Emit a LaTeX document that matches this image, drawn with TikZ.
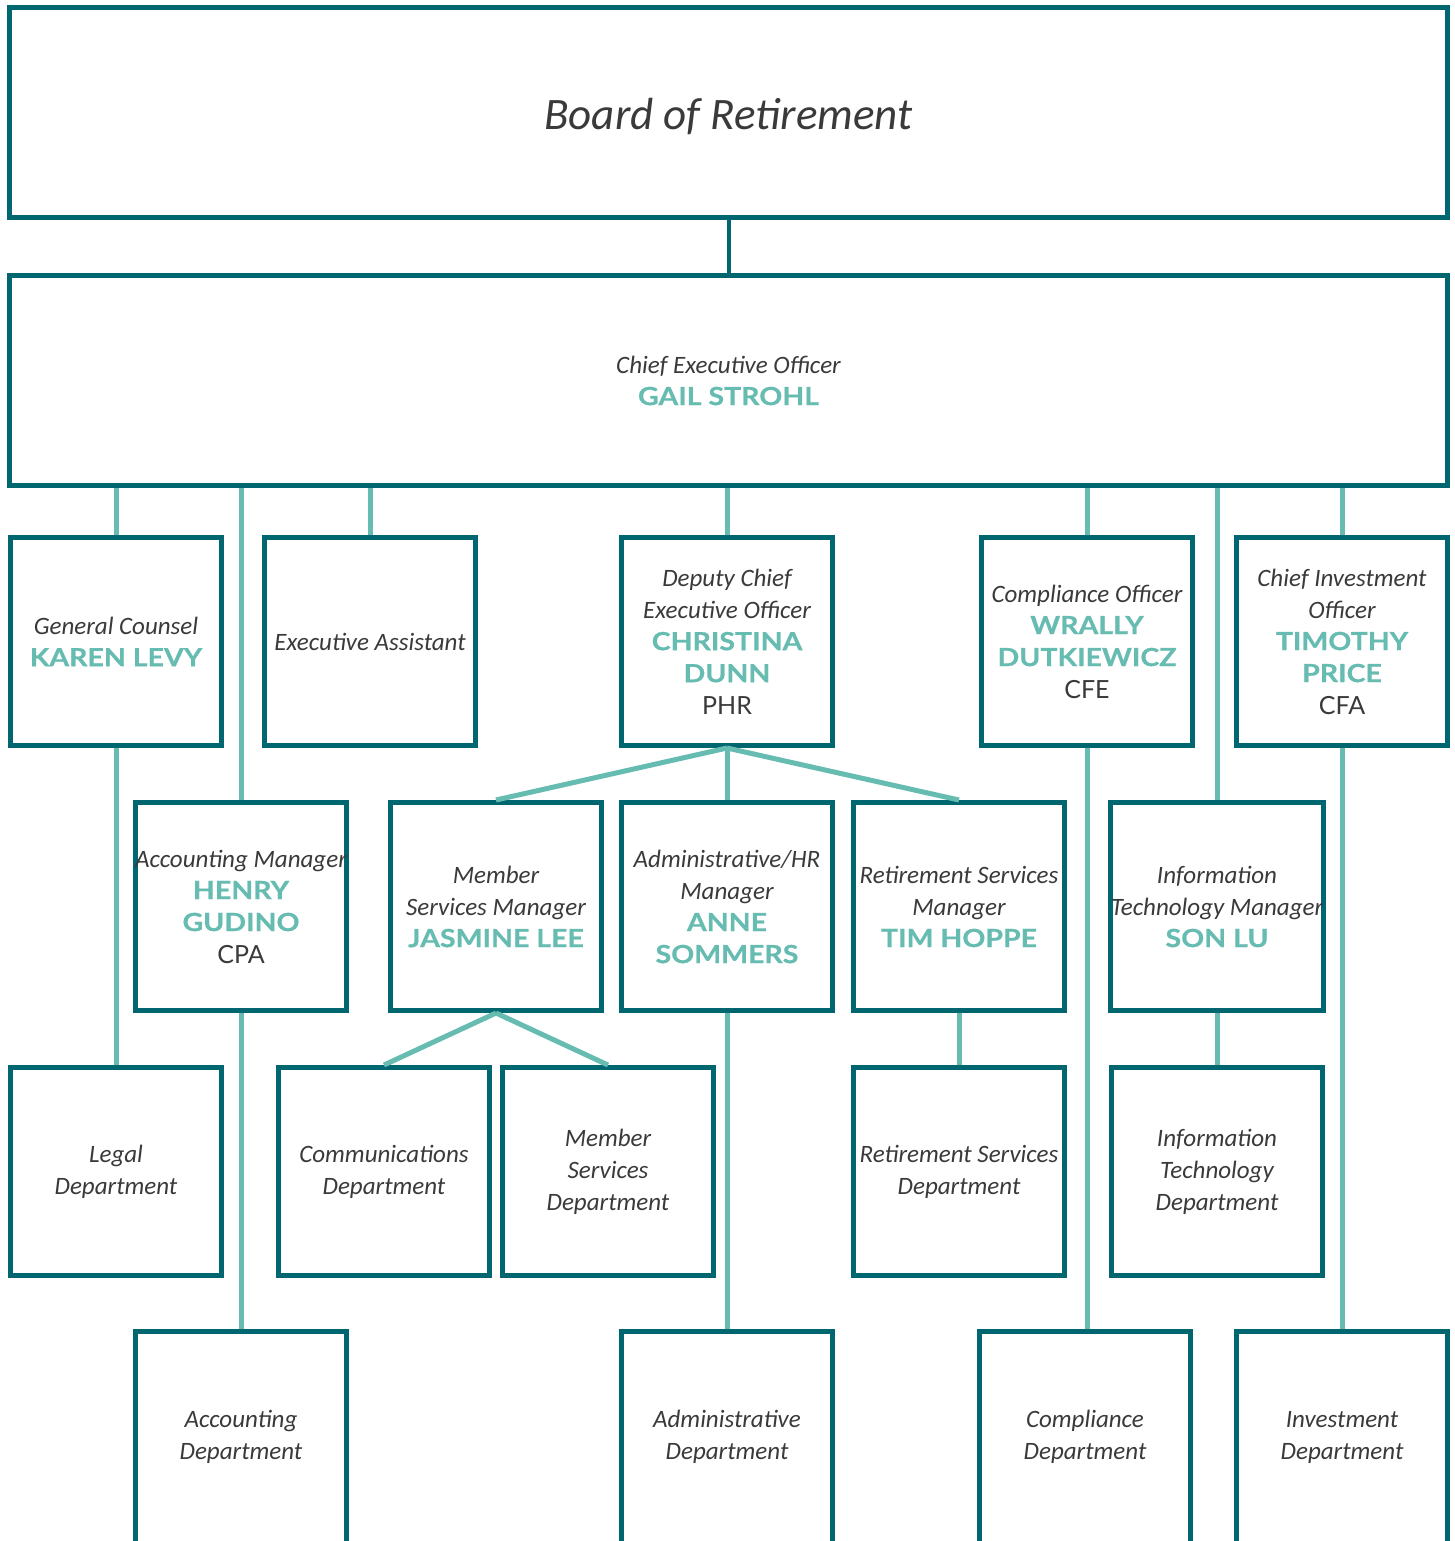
\documentclass[tikz,border=0pt]{standalone}
\usepackage{fontspec}
\usepackage{tikz}
\usetikzlibrary{positioning}
\setmainfont{Carlito}
\newfontfamily\namefam[FakeStretch=1.14, BoldFeatures={FakeBold=0.6}]{Lato}
\newfontfamily\credfam{Lato}
\definecolor{boxteal}{HTML}{006670}
\definecolor{lineteal}{HTML}{66BCB1}
\definecolor{inkgray}{HTML}{3A3A3A}
\newcommand{\nm}[1]{{\namefam\bfseries\upshape\color{lineteal}#1}}
\newcommand{\cred}[1]{{\credfam\upshape #1}}
\tikzset{unit/.style = {draw=boxteal, line width=2.5pt, fill=white, minimum width=105.5pt, minimum height=104pt, align=center, inner xsep=0pt, text=inkgray, font=\fontsize{12.5}{16}\selectfont\itshape}}
\tikzset{wide/.style = {unit, minimum width=719pt, minimum height=105pt}}
\tikzset{deptbox/.style = {unit, minimum height=120pt, anchor=north}}
\tikzset{depttext/.style = {align=center, text=inkgray, font=\fontsize{12.5}{16}\selectfont\itshape}}
\tikzset{link/.style = {draw=lineteal, line width=2.5pt}}

\begin{document}
\begin{tikzpicture}[x=0.5pt, y=-0.5pt]
  \useasboundingbox (0,0) rectangle (1455,1541);

  \node [wide, font=\fontsize{22.5}{26}\selectfont\itshape, text height=19pt, text depth=2pt] (board) at (728.5,112.5) {Board of Retirement};
  \node [wide] (ceo) at (728.5,380.5) {Chief Executive Officer\\\nm{GAIL STROHL}};

  \node [unit] (gc) at (116,641.5) {General Counsel\\\nm{KAREN LEVY}};
  \node [unit] (ea) at (370,641.5) {Executive Assistant};
  \node [unit] (dep) at (727,641.5) {Deputy Chief\\Executive Officer\\\nm{CHRISTINA}\\\nm{DUNN}\\\cred{PHR}};
  \node [unit] (co) at (1087,641.5) {Compliance Officer\\\nm{WRALLY}\\\nm{DUTKIEWICZ}\\\cred{CFE}};
  \node [unit] (cio) at (1342,641.5) {Chief Investment\\Officer\\\nm{TIMOTHY}\\\nm{PRICE}\\\cred{CFA}};

  \node [unit] (am) at (241,906.5) {Accounting Manager\\\nm{HENRY}\\\nm{GUDINO}\\\cred{CPA}};
  \node [unit] (msm) at (496,906.5) {Member\\Services Manager\\\nm{JASMINE LEE}};
  \node [unit] (ahr) at (727,906.5) {Administrative/HR\\Manager\\\nm{ANNE}\\\nm{SOMMERS}};
  \node [unit] (rsm) at (959,906.5) {Retirement Services\\Manager\\\nm{TIM HOPPE}};
  \node [unit] (itm) at (1217,906.5) {Information\\Technology Manager\\\nm{SON LU}};

  \node [unit] (legal) at (116,1171.5) {Legal\\Department};
  \node [unit] (comm) at (384,1171.5) {Communications\\Department};
  \node [unit] (msd) at (608,1171.5) {Member\\Services\\Department};
  \node [unit] (rsd) at (959,1171.5) {Retirement Services\\Department};
  \node [unit] (itd) at (1217,1171.5) {Information\\Technology\\Department};

  % bottom row runs off the page
  \node [deptbox] (accd) at (241,1329) {};
  \node [deptbox] (admd) at (727,1329) {};
  \node [deptbox] (compd) at (1085,1329) {};
  \node [deptbox] (invd) at (1342,1329) {};
  \node [depttext] (accdtext) at (241,1437) {Accounting\\Department};
  \node [depttext] (admdtext) at (727,1437) {Administrative\\Department};
  \node [depttext] (compdtext) at (1085,1437) {Compliance\\Department};
  \node [depttext] (invdtext) at (1342,1437) {Investment\\Department};

  \draw [draw=boxteal, line width=2pt] (board.south) -- (ceo.north);

  \path [link] (ceo.south -| gc.north) -- (gc.north);
  \path [link] (ceo.south -| am.north) -- (am.north);
  \path [link] (ceo.south -| ea.north) -- (ea.north);
  \path [link] (ceo.south -| dep.north) -- (dep.north);
  \path [link] (ceo.south -| co.north) -- (co.north);
  \path [link] (ceo.south -| itm.north) -- (itm.north);
  \path [link] (ceo.south -| cio.north) -- (cio.north);

  \path [link] (dep.south) -- (msm.north);
  \path [link] (dep.south) -- (ahr.north);
  \path [link] (dep.south) -- (rsm.north);

  \path [link] (msm.south) -- (comm.north);
  \path [link] (msm.south) -- (msd.north);

  \path [link] (gc.south) -- (legal.north);
  \path [link] (rsm.south) -- (rsd.north);
  \path [link] (itm.south) -- (itd.north);

  \path [link] (am.south) -- (accd.north);
  \path [link] (ahr.south) -- (admd.north);
  \path [link] (co.south) -- (co.south |- compd.north);
  \path [link] (cio.south) -- (invd.north);
\end{tikzpicture}
\end{document}
